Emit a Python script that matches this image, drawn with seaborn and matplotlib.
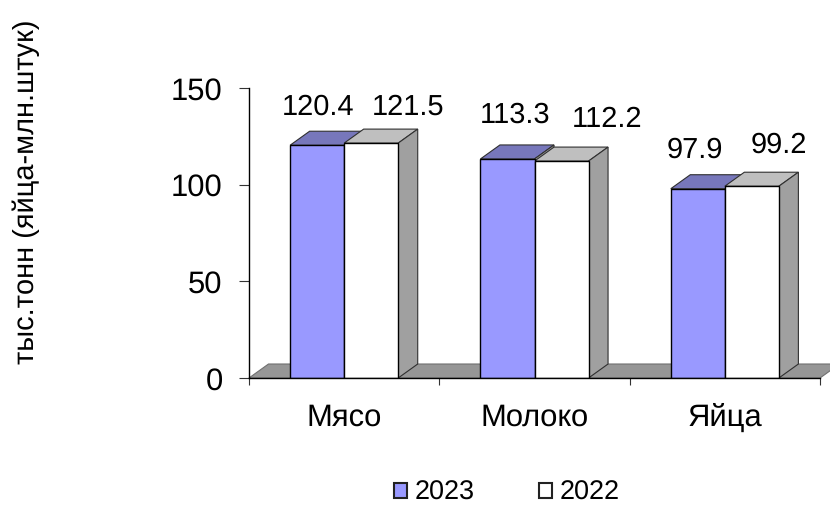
import matplotlib
matplotlib.use("Agg")
import matplotlib.pyplot as plt
import seaborn as sns
import pandas as pd
from matplotlib.patches import Polygon, Patch

categories = ["Мясо", "Молоко", "Яйца"]
years = ["2023", "2022"]
values_2023 = [120.4, 113.3, 97.9]
values_2022 = [121.5, 112.2, 99.2]
y_title = "тыс.тонн (яйца-млн.штук)"

W, H = 830, 505
L, R, B, T = 249, 820, 378, 88
DX, DY = 19.5, 14
# hand-placed label offsets from the top-centre of each bar (pixels)
label_shift = [(1, 38), (8, 44), (-3, 39), (37, 36), (46, 42), (27, 41)]

sns.set_theme(style="white")
plt.rcParams["font.family"] = ["Liberation Sans", "DejaVu Sans"]
plt.rcParams["text.hinting"] = "no_hinting"
plt.rcParams["text.hinting_factor"] = 1

df = pd.DataFrame({
    "cat": categories * 2,
    "year": [years[0]] * 3 + [years[1]] * 3,
    "val": values_2023 + values_2022,
})

fig = plt.figure(figsize=(W / 100, H / 100), dpi=100, facecolor="white")
ax = fig.add_axes([L / W, 1 - B / H, (R - L) / W, (B - T) / H])
sns.barplot(data=df, x="cat", y="val", hue="year", hue_order=years, order=categories,
            palette=["#9999ff", "#ffffff"], saturation=1, width=0.568, gap=0, dodge=True,
            edgecolor="black", linewidth=1.0, legend=False, ax=ax, zorder=3)
ax.set_xlim(-0.5, 2.5)
ax.set_ylim(0, 150)

dx = DX * 3 / (R - L)
dy = DY * 150 / (B - T)

ax.add_patch(Polygon([(-0.5, 0), (-0.5 + dx, dy), (2.5 + dx, dy), (2.5, 0)], closed=True,
                     facecolor="#969696", edgecolor="#707070", linewidth=0.8,
                     clip_on=False, zorder=1))

top_colors = ["#7777bb", "#bfbfbf"]
for i, cont in enumerate(ax.containers):
    for j, p in enumerate(cont.patches):
        x0, w, h = p.get_x(), p.get_width(), p.get_height()
        ax.add_patch(Polygon([(x0, h), (x0 + dx, h + dy), (x0 + w + dx, h + dy), (x0 + w, h)],
                             closed=True, facecolor=top_colors[i], edgecolor="#303030",
                             linewidth=0.8, clip_on=False, zorder=2))
        ax.add_patch(Polygon([(x0 + w, 0), (x0 + w + dx, dy), (x0 + w + dx, h + dy), (x0 + w, h)],
                             closed=True, facecolor="#a0a0a0", edgecolor="#303030",
                             linewidth=0.8, clip_on=False, zorder=2))
        sx, sy = label_shift[i * 3 + j]
        ax.annotate(f"{h:.1f}", (x0 + w / 2, h), xytext=(sx * 0.72, sy * 0.72),
                    textcoords="offset points", ha="center", va="center",
                    fontsize=21.2, color="black", annotation_clip=False, zorder=5)

for s in ("top", "right"):
    ax.spines[s].set_visible(False)
for s in ("left", "bottom"):
    ax.spines[s].set_color("black")
    ax.spines[s].set_linewidth(1.0)
    ax.spines[s].set_zorder(6)

ax.set_yticks([0, 50, 100, 150])
ax.tick_params(axis="y", left=True, length=7, width=0.8, color="#333333",
               labelsize=22, pad=12, labelcolor="black")
ax.set_xticks([-0.5, 0.5, 1.5, 2.5])
ax.set_xticklabels([])
ax.set_xticks([0, 1, 2], minor=True)
ax.set_xticklabels(categories, minor=True, fontsize=22, color="black")
ax.tick_params(axis="x", which="major", bottom=True, length=5, width=0.8, color="#333333")
ax.tick_params(axis="x", which="minor", bottom=False, length=0, pad=18)
ax.set_xlabel("")
ax.set_ylabel(y_title, fontsize=21.2, color="black")
ax.yaxis.set_label_coords((40 - L) / (R - L), (B - 192) / (B - T))

handles = [Patch(facecolor="#9999ff", edgecolor="#222222", linewidth=1.5, label=years[0]),
           Patch(facecolor="#ffffff", edgecolor="#222222", linewidth=1.5, label=years[1])]
fig.legend(handles=handles, loc="center", bbox_to_anchor=(507 / W, 1 - 493 / H), ncol=2,
           frameon=False, fontsize=19.7, handlelength=0.48, handleheight=0.48,
           handletextpad=0.28, columnspacing=2.35, borderpad=0, borderaxespad=0, labelcolor="black")

fig.savefig("out.png", dpi=100, facecolor="white")
